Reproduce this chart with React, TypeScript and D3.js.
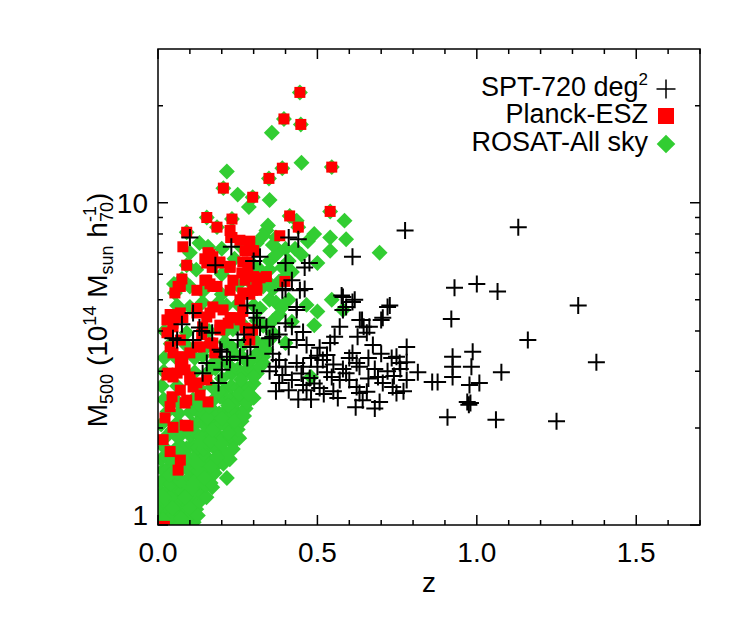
import React from "react";
import * as d3 from "d3";

// ---------- data ----------
const xMajorTicks = [0, 0.5, 1.0, 1.5];
const xTickLabels = ["0.0", "0.5", "1.0", "1.5"];
const yMajorTicks = [1, 10];
const yTickLabels = ["1", "10"];
const legendLabels = ["SPT-720 deg", "Planck-ESZ", "ROSAT-All sky"];

const sptData: [number, number][] = [
  [0.10, 7.8], [0.23, 7.3], [0.18, 6.4], [0.30, 6.6], [0.32, 6.8], [0.41, 7.8], [0.44, 7.7], [0.40, 6.5],
  [0.475, 6.5], [0.46, 6.3], [0.42, 5.75], [0.61, 6.8], [0.775, 8.2], [1.13, 8.4],
  [0.40, 5.4], [0.46, 5.4], [0.93, 5.45], [1.0, 5.6], [1.065, 5.3], [0.92, 4.36], [1.16, 3.75], [0.727, 4.8],
  [0.70, 4.33], [0.576, 5.15], [0.617, 5.0], [0.59, 4.75], [0.435, 4.75], [0.57, 4.12], [0.64, 4.33], [0.645, 4.12],
  [0.655, 3.95], [0.626, 3.84], [0.674, 3.62], [0.554, 3.84], [0.54, 3.67], [0.42, 4.12], [0.455, 3.97], [0.36, 3.84],
  [0.38, 3.9], [0.34, 4.12], [0.435, 3.75], [0.466, 3.62], [0.507, 3.55], [0.53, 3.37], [0.41, 3.57], [0.38, 3.25],
  [0.37, 3.1], [0.40, 3.1], [0.435, 3.18], [0.455, 3.1], [0.50, 3.1], [0.39, 2.92], [0.42, 2.82], [0.476, 2.86],
  [0.455, 2.72], [0.41, 2.62], [0.466, 2.62], [0.38, 2.76], [0.517, 3.25], [0.53, 2.98], [0.545, 2.88], [0.57, 2.82],
  [0.59, 2.96], [0.61, 3.42], [0.623, 3.18], [0.632, 3.1], [0.60, 2.82], [0.623, 2.68], [0.632, 2.57], [0.655, 2.59],
  [0.642, 2.44], [0.564, 2.48], [0.507, 2.66], [0.69, 2.88], [0.705, 2.76], [0.695, 2.41], [0.736, 2.68], [0.733, 3.3],
  [0.748, 3.33], [0.758, 3.18], [0.78, 3.57], [0.78, 2.82], [0.815, 2.98], [0.877, 2.78], [0.924, 3.33], [0.924, 2.88],
  [0.924, 3.1], [0.987, 3.45], [0.983, 3.1], [1.008, 2.76], [0.977, 2.72], [1.077, 2.98], [0.97, 2.41], [0.98, 2.39],
  [0.975, 2.36], [0.908, 2.16], [1.06, 2.12], [1.25, 2.1], [1.318, 4.8], [1.375, 3.2], [0.78, 3.2], [0.86, 2.78],
  [0.748, 2.57],
  [0.35, 3.0], [0.45, 2.95], [0.49, 2.75], [0.52, 2.55], [0.55, 2.6], [0.58, 3.05], [0.6, 3.3], [0.66, 3.3],
  [0.68, 3.05], [0.72, 3.0], [0.74, 2.9], [0.66, 2.85], [0.7, 3.4], [0.76, 3.05], [0.5, 3.35], [0.55, 3.15],
  [0.48, 3.3], [0.36, 3.4], [0.37, 2.6], [0.44, 2.45], [0.48, 2.45], [0.62, 2.32], [0.68, 2.3], [0.77, 2.6],
  [0.11, 4.55], [0.075, 4.2], [0.13, 4.1], [0.28, 4.8], [0.30, 4.55], [0.31, 4.4], [0.32, 4.1], [0.06, 3.75],
  [0.11, 3.75], [0.137, 4.0], [0.17, 3.95], [0.2, 3.45], [0.153, 3.18], [0.14, 2.96], [0.2, 3.03], [0.216, 3.33],
  [0.226, 3.25], [0.257, 3.33], [0.28, 3.3], [0.25, 3.75], [0.30, 4.1], [0.19, 2.76], [0.047, 3.8], [0.195, 3.5],
  [0.27, 3.9], [0.29, 3.57], [0.35, 3.8], [0.39, 5.35], [0.445, 5.35], [0.435, 4.65], [0.40, 4.23], [0.58, 5.1],
  [0.61, 4.92], [0.58, 4.65], [0.72, 4.75], [0.633, 4.33], [0.705, 4.4], [0.663, 4.12],
];

const planckData: [number, number][] = [
  [0.445, 22], [0.395, 18.2], [0.448, 17.5], [0.39, 12.8], [0.348, 11.9], [0.205, 11.1], [0.297, 10.4], [0.545, 12.9],
  [0.54, 9.4], [0.153, 9.0], [0.185, 8.4], [0.232, 8.9], [0.226, 8.2], [0.413, 9.1], [0.44, 8.4], [0.09, 8.1],
  [0.078, 7.3], [0.382, 7.9], [0.09, 6.4], [0.075, 5.8], [0.063, 5.5], [0.053, 5.25], [0.157, 7.0], [0.172, 6.8],
  [0.147, 6.7], [0.228, 7.8], [0.257, 7.65], [0.288, 7.6], [0.294, 7.1], [0.273, 7.1], [0.28, 6.55], [0.226, 6.3],
  [0.194, 6.5], [0.17, 6.3], [0.147, 5.75], [0.163, 5.6], [0.226, 5.35], [0.263, 6.05], [0.282, 6.1], [0.32, 5.85],
  [0.297, 5.35], [0.398, 5.7],
  [0.028, 4.33], [0.047, 4.23], [0.078, 4.4], [0.122, 4.55], [0.163, 4.55], [0.204, 4.65], [0.226, 4.4], [0.257, 4.33],
  [0.07, 5.5], [0.122, 5.35], [0.185, 5.5], [0.266, 5.25], [0.31, 5.5], [0.038, 3.57], [0.07, 3.75], [0.122, 3.57],
  [0.172, 3.67], [0.07, 3.33], [0.085, 3.03], [0.047, 2.88], [0.028, 2.92], [0.10, 2.82], [0.122, 2.76], [0.153, 2.82],
  [0.07, 2.62], [0.044, 2.5], [0.09, 2.44], [0.132, 2.53], [0.157, 2.41], [0.022, 2.15], [0.047, 2.01], [0.085, 2.04],
  [0.016, 1.84], [0.038, 1.69], [0.07, 1.59], [0.063, 1.48], [0.137, 3.9], [0.194, 4.03], [0.297, 4.03], [0.288, 3.75],
  [0.02, 0.99],
  [0.094, 2.03], [0.085, 2.39], [0.038, 2.33], [0.11, 2.68], [0.031, 2.96], [0.06, 2.96], [0.10, 2.88], [0.07, 3.1],
  [0.078, 3.25], [0.047, 3.42], [0.10, 3.42], [0.132, 3.57], [0.163, 3.67], [0.178, 3.42], [0.028, 3.95], [0.047, 4.12],
  [0.14, 4.12], [0.194, 4.17], [0.22, 4.23], [0.273, 4.08], [0.294, 4.03],
  [0.232, 7.8], [0.226, 6.35], [0.266, 6.55], [0.30, 7.1], [0.153, 6.5], [0.194, 6.55], [0.163, 6.9], [0.153, 5.75],
  [0.172, 5.5], [0.235, 5.75], [0.273, 5.75], [0.30, 5.9], [0.31, 5.35], [0.257, 5.0], [0.288, 5.2], [0.172, 4.75],
  [0.122, 4.7], [0.038, 4.5], [0.07, 4.55], [0.153, 4.42], [0.235, 4.4], [0.266, 4.6], [0.34, 5.9],
];

const rosatData: [number, number][] = [
  [0.445, 22], [0.395, 18.2], [0.448, 17.5], [0.39, 12.8], [0.348, 11.9], [0.205, 11.1], [0.297, 10.4], [0.545, 12.9],
  [0.54, 9.4], [0.153, 9.0], [0.185, 8.4], [0.232, 8.9], [0.413, 9.1], [0.44, 8.4], [0.09, 8.1], [0.09, 6.4],
  [0.075, 5.8], [0.063, 5.5], [0.053, 5.25],
  [0.357, 16.5], [0.45, 13.3], [0.216, 12.5], [0.25, 10.6], [0.285, 9.7], [0.35, 10.2], [0.345, 8.5], [0.585, 8.8],
  [0.54, 7.8], [0.59, 7.7], [0.54, 7.1], [0.695, 7.0], [0.50, 6.5], [0.435, 8.8], [0.157, 7.3], [0.34, 8.2],
  [0.37, 7.8], [0.38, 7.1], [0.35, 6.2], [0.34, 5.75], [0.35, 5.0], [0.33, 3.33], [0.545, 5.0], [0.5, 4.6],
  [0.466, 4.82], [0.49, 4.17], [0.58, 4.65], [0.42, 4.27], [0.40, 3.67], [0.48, 2.88], [0.30, 2.48], [0.33, 3.18],
  [0.216, 1.4], [0.25, 1.88], [0.226, 1.97], [0.17, 1.31],
  [0.008, 1.0], [0.022, 1.02], [0.038, 0.99], [0.052, 1.03], [0.068, 1.0], [0.083, 1.04], [0.098, 1.01], [0.112, 1.02],
  [0.012, 1.08], [0.028, 1.1], [0.045, 1.07], [0.06, 1.11], [0.075, 1.08], [0.09, 1.1], [0.105, 1.09], [0.12, 1.12],
  [0.006, 1.16], [0.02, 1.18], [0.036, 1.15], [0.05, 1.2], [0.066, 1.17], [0.082, 1.19], [0.098, 1.16], [0.115, 1.2], [0.13, 1.18],
  [0.012, 1.26], [0.03, 1.28], [0.045, 1.24], [0.06, 1.3], [0.076, 1.27], [0.092, 1.25], [0.108, 1.29], [0.124, 1.27], [0.14, 1.25], [0.152, 1.22],
  [0.008, 1.36], [0.025, 1.38], [0.04, 1.34], [0.055, 1.4], [0.07, 1.37], [0.088, 1.35], [0.1, 1.41], [0.118, 1.38], [0.134, 1.36], [0.15, 1.33], [0.165, 1.35],
  [0.015, 1.48], [0.032, 1.5], [0.048, 1.46], [0.078, 1.52], [0.095, 1.49], [0.11, 1.52], [0.128, 1.47], [0.145, 1.5], [0.16, 1.46], [0.178, 1.45],
  [0.01, 1.6], [0.028, 1.62], [0.05, 1.58], [0.085, 1.63], [0.102, 1.6], [0.12, 1.64], [0.138, 1.6], [0.155, 1.62], [0.172, 1.58], [0.19, 1.56], [0.205, 1.55],
  [0.02, 1.74], [0.055, 1.72], [0.072, 1.76], [0.09, 1.73], [0.108, 1.77], [0.125, 1.74], [0.143, 1.72], [0.16, 1.76], [0.178, 1.73], [0.195, 1.7], [0.21, 1.68], [0.225, 1.6],
  [0.03, 1.9], [0.06, 1.88], [0.075, 1.92], [0.1, 1.9], [0.118, 1.93], [0.135, 1.88], [0.152, 1.92], [0.17, 1.89], [0.188, 1.9], [0.205, 1.86], [0.222, 1.84], [0.24, 1.82], [0.255, 1.86],
  [0.01, 2.05], [0.062, 2.08], [0.11, 2.06], [0.128, 2.1], [0.145, 2.05], [0.162, 2.08], [0.18, 2.04], [0.198, 2.07], [0.215, 2.02], [0.232, 2.0], [0.25, 1.98], [0.262, 2.1],
  [0.03, 2.25], [0.065, 2.22], [0.1, 2.24], [0.118, 2.28], [0.14, 2.22], [0.175, 2.26], [0.192, 2.22], [0.21, 2.25], [0.228, 2.2], [0.245, 2.24], [0.262, 2.2], [0.275, 2.3],
  [0.018, 2.45], [0.06, 2.42], [0.11, 2.45], [0.175, 2.45], [0.195, 2.5], [0.212, 2.44], [0.23, 2.48], [0.248, 2.42], [0.265, 2.46], [0.28, 2.4],
  [0.012, 2.7], [0.06, 2.7], [0.13, 2.65], [0.17, 2.68], [0.21, 2.64], [0.23, 2.7], [0.25, 2.66], [0.268, 2.72], [0.285, 2.65], [0.3, 2.75],
  [0.018, 3.0], [0.115, 2.98], [0.16, 3.0], [0.18, 3.06], [0.23, 2.95], [0.25, 3.05], [0.27, 2.98], [0.29, 3.05], [0.31, 2.95], [0.32, 3.1],
  [0.02, 3.3], [0.06, 3.28], [0.115, 3.3], [0.14, 3.35], [0.19, 3.25], [0.24, 3.4], [0.26, 3.35], [0.3, 3.3], [0.315, 3.45], [0.34, 3.5],
  [0.04, 3.65], [0.09, 3.6], [0.15, 3.55], [0.21, 3.7], [0.23, 3.58], [0.27, 3.65], [0.31, 3.7], [0.33, 3.62], [0.35, 3.75], [0.36, 3.95],
  [0.02, 4.0], [0.09, 3.95], [0.16, 4.0], [0.21, 3.98], [0.235, 4.05], [0.26, 4.25], [0.31, 4.3], [0.33, 4.15], [0.36, 4.3], [0.38, 4.5],
  [0.06, 4.8], [0.1, 4.75], [0.14, 4.9], [0.19, 4.9], [0.215, 4.8], [0.25, 4.85], [0.3, 4.8], [0.32, 4.7], [0.37, 4.9], [0.39, 4.75], [0.41, 5.0],
  [0.05, 5.6], [0.1, 5.5], [0.14, 5.3], [0.2, 5.2], [0.25, 5.55], [0.29, 5.65], [0.33, 5.5], [0.36, 5.4], [0.38, 5.7], [0.4, 5.9], [0.42, 6.1],
  [0.12, 6.2], [0.2, 6.0], [0.24, 6.7], [0.3, 6.4], [0.32, 6.2], [0.35, 6.6], [0.37, 6.9], [0.39, 6.3], [0.41, 6.6], [0.43, 7.2],
  [0.1, 7.0], [0.13, 7.5], [0.2, 7.2], [0.26, 7.3], [0.31, 7.5], [0.33, 7.9], [0.36, 7.4], [0.4, 7.2], [0.45, 6.9], [0.47, 7.6], [0.49, 8.0],
  [0.015, 1.04], [0.045, 1.13], [0.072, 1.05], [0.1, 1.13], [0.125, 1.07], [0.018, 1.22], [0.085, 1.22], [0.11, 1.34],
  [0.145, 1.4], [0.035, 1.43], [0.062, 1.45], [0.12, 1.56], [0.165, 1.52], [0.185, 1.62], [0.04, 1.67], [0.068, 1.67],
  [0.135, 1.81], [0.165, 1.82], [0.2, 1.78], [0.235, 1.72], [0.045, 1.97], [0.09, 1.98], [0.17, 1.97], [0.22, 1.93],
  [0.155, 2.15], [0.2, 2.14], [0.24, 2.1], [0.27, 2.18], [0.13, 2.36], [0.16, 2.33], [0.22, 2.35], [0.255, 2.55],
  [0.19, 2.58], [0.285, 2.55], [0.2, 2.85], [0.26, 2.83], [0.3, 2.88], [0.17, 3.15], [0.22, 3.15], [0.28, 3.2],
];

// ---------- layout ----------
const W = 747;
const H = 626;
const L = 158, R = 700, T = 49, B = 525;
const FONT = "'Liberation Sans', Arial, Helvetica, sans-serif";
const GREEN = "#32cd32";
const RED = "#ff0000";

export default function App() {
  const x = d3.scaleLinear().domain([0, 1.7]).range([L, R]);
  const y = d3.scaleLog().domain([1, 30]).range([B, T]);

  const xMinor = d3.range(0, 1.7001, 0.1).filter((v) => !xMajorTicks.some((m) => Math.abs(m - v) < 1e-6));
  const yMinor = [2, 3, 4, 5, 6, 7, 8, 9, 20];
  const majLen = 10, minLen = 5;

  const diamond = d3.symbol().type(d3.symbolDiamond2).size(2 * 9 * 9)();
  const legendDiamond = d3.symbol().type(d3.symbolDiamond2).size(2 * 10.5 * 10.5)();
  const sq = 11;
  const cr = 8.5;

  return (
    <svg width={W} height={H} style={{ position: "absolute", left: 0, top: 0, background: "#fff" }} fontFamily={FONT}>
      <defs>
        <clipPath id="plotclip">
          <rect x={L} y={T} width={R - L} height={B - T} />
        </clipPath>
      </defs>
      <rect x={0} y={0} width={W} height={H} fill="#fff" />
      <g clipPath="url(#plotclip)">
        {rosatData.map(([z, m], i) => (
          <path key={"g" + i} d={diamond!} transform={`translate(${x(z)},${y(m)})`} fill={GREEN} />
        ))}
        {planckData.map(([z, m], i) => (
          <rect key={"r" + i} x={x(z) - sq / 2} y={y(m) - sq / 2} width={sq} height={sq} fill={RED} />
        ))}
        {sptData.map(([z, m], i) => (
          <path
            key={"k" + i}
            d={`M${x(z) - cr},${y(m)}H${x(z) + cr}M${x(z)},${y(m) - cr}V${y(m) + cr}`}
            stroke="#000"
            strokeWidth={2}
            fill="none"
          />
        ))}
      </g>

      <rect x={L} y={T} width={R - L} height={B - T} fill="none" stroke="#000" strokeWidth={1.5} />

      {xMajorTicks.map((v) => (
        <g key={"xm" + v}>
          <line x1={x(v)} x2={x(v)} y1={B} y2={B - majLen} stroke="#000" strokeWidth={1.5} />
          <line x1={x(v)} x2={x(v)} y1={T} y2={T + majLen} stroke="#000" strokeWidth={1.5} />
        </g>
      ))}
      {xMinor.map((v) => (
        <g key={"xn" + v}>
          <line x1={x(v)} x2={x(v)} y1={B} y2={B - minLen} stroke="#000" strokeWidth={1.5} />
          <line x1={x(v)} x2={x(v)} y1={T} y2={T + minLen} stroke="#000" strokeWidth={1.5} />
        </g>
      ))}
      {xMajorTicks.map((v, i) => (
        <text key={"xl" + v} x={x(v)} y={562} fontSize={28} textAnchor="middle">
          {xTickLabels[i]}
        </text>
      ))}

      {yMajorTicks.map((v) => (
        <g key={"ym" + v}>
          <line x1={L} x2={L + majLen} y1={y(v)} y2={y(v)} stroke="#000" strokeWidth={1.5} />
          <line x1={R} x2={R - majLen} y1={y(v)} y2={y(v)} stroke="#000" strokeWidth={1.5} />
        </g>
      ))}
      {yMinor.map((v) => (
        <g key={"yn" + v}>
          <line x1={L} x2={L + minLen} y1={y(v)} y2={y(v)} stroke="#000" strokeWidth={1.5} />
          <line x1={R} x2={R - minLen} y1={y(v)} y2={y(v)} stroke="#000" strokeWidth={1.5} />
        </g>
      ))}
      {yMajorTicks.map((v, i) => (
        <text key={"yl" + v} x={L - 10} y={y(v) + (i === 0 ? 0 : 10)} fontSize={28} textAnchor="end">
          {yTickLabels[i]}
        </text>
      ))}

      <text x={(L + R) / 2} y={592} fontSize={28} textAnchor="middle">z</text>
      <text transform={`translate(107,310) rotate(-90)`} fontSize={28} textAnchor="middle">
        <tspan>M</tspan>
        <tspan fontSize={18} dy={6}>500</tspan>
        <tspan dy={-6}> (10</tspan>
        <tspan fontSize={18} dy={-11}>14</tspan>
        <tspan dy={11}> M</tspan>
        <tspan fontSize={18} dy={6}>sun</tspan>
        <tspan dy={-6}> h</tspan>
        <tspan fontSize={18} dy={-11}>-1</tspan>
        <tspan fontSize={18} dx={-16} dy={17}>70</tspan>
        <tspan dy={-6}>)</tspan>
      </text>

      <text x={648} y={96} fontSize={27} textAnchor="end">
        {legendLabels[0]}
        <tspan fontSize={17} dy={-11}>2</tspan>
      </text>
      <path d={`M${666 - 9.5},89H${666 + 9.5}M666,${89 - 9.5}V${89 + 9.5}`} stroke="#000" strokeWidth={1.5} />
      <text x={648} y={123} fontSize={27} textAnchor="end">{legendLabels[1]}</text>
      <rect x={666 - 8} y={116 - 8} width={16} height={16} fill={RED} />
      <text x={648} y={151} fontSize={27} textAnchor="end">{legendLabels[2]}</text>
      <path d={legendDiamond!} transform="translate(666,144)" fill={GREEN} />
    </svg>
  );
}
